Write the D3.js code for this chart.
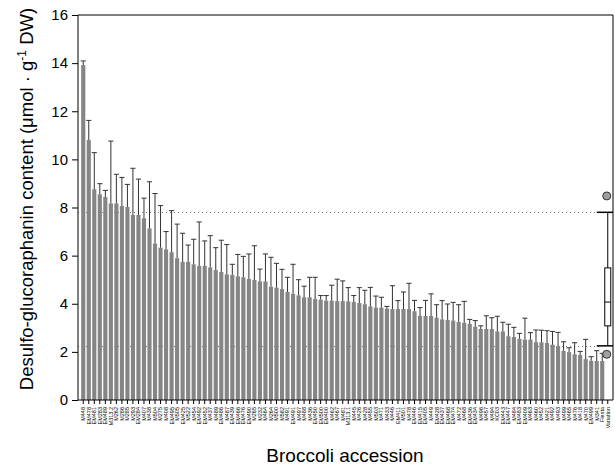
<!DOCTYPE html>
<html>
<head>
<meta charset="utf-8">
<script src="https://cdn.jsdelivr.net/npm/d3@7"></script>
<style>
  body { margin: 0; background: #fff; }
  text { font-family: Arial, "Liberation Sans", sans-serif; }
</style>
</head>
<body>
<div id="chart"></div>
<script>
// accessions, sorted by content
var accessions = ["M448", "EM478", "EM481", "EM283", "EM489", "M313.2", "M262", "M286", "M285", "M293",
  "EM284", "M407", "M438", "M504", "M275", "M408", "EM495", "M505", "EM425", "M522",
  "M454", "EM492", "EM452", "M437", "M489", "EM486", "M487", "EM439", "EM466", "EM476",
  "EM490", "M265", "M232", "M464", "M264", "M500", "M582", "M491", "EM491", "M497",
  "M488", "M436", "EM450", "EM500", "EM400", "M462", "M467", "M481", "M313.1", "M445",
  "M426", "M428", "M455", "M503", "M471", "M433", "M446", "EM411", "M501", "M478",
  "EM446", "EM415", "EM405", "M449", "EM428", "EM437", "EM468", "EM474", "M472", "M468",
  "EM436", "EM434", "M496", "M457", "M494", "KC03", "EM443", "EM447", "M484", "EM483",
  "EM409", "M463", "M460", "M452", "M421", "M492", "M493", "M499", "M465", "M476",
  "M418", "M470", "EM499", "M341", "Fiesta"];

var means = [13.92, 10.80, 8.76, 8.55, 8.44, 8.17, 8.17, 8.06, 8.02, 7.69,
  7.69, 7.55, 7.13, 6.50, 6.33, 6.26, 6.14, 5.89, 5.74, 5.74,
  5.64, 5.57, 5.57, 5.51, 5.40, 5.32, 5.22, 5.20, 5.14, 5.10,
  5.03, 4.99, 4.93, 4.93, 4.71, 4.67, 4.61, 4.49, 4.41, 4.35,
  4.27, 4.27, 4.20, 4.17, 4.13, 4.13, 4.11, 4.11, 4.10, 4.07,
  4.03, 3.98, 3.89, 3.84, 3.84, 3.80, 3.78, 3.78, 3.78, 3.78,
  3.69, 3.50, 3.49, 3.49, 3.42, 3.35, 3.33, 3.30, 3.24, 3.21,
  3.16, 3.05, 2.95, 2.95, 2.95, 2.85, 2.85, 2.65, 2.62, 2.54,
  2.51, 2.51, 2.40, 2.40, 2.37, 2.30, 2.24, 2.04, 1.99, 1.90,
  1.87, 1.70, 1.63, 1.62, 1.62];

var errs = [0.17, 0.82, 1.52, 0.44, 0.27, 2.59, 1.21, 1.19, 0.94, 1.94,
  1.49, 0.84, 1.94, 2.08, 1.75, 0.74, 1.73, 1.42, 1.19, 0.70,
  1.04, 1.83, 1.04, 1.32, 0.93, 1.32, 1.24, 0.44, 0.91, 0.87,
  1.04, 1.42, 0.51, 1.14, 1.22, 1.01, 0.82, 0.61, 1.23, 0.65,
  0.46, 0.83, 0.90, 0.17, 0.21, 0.64, 0.91, 0.84, 0.57, 0.27,
  0.64, 0.58, 0.79, 0.48, 0.43, 0.09, 0.97, 0.35, 0.71, 1.07,
  0.45, 0.34, 0.65, 0.92, 0.54, 0.78, 0.66, 0.76, 0.72, 0.89,
  0.19, 0.25, 0.13, 0.55, 0.47, 0.63, 0.38, 0.50, 0.40, 0.23,
  0.89, 0.29, 0.51, 0.50, 0.51, 0.55, 0.57, 0.38, 0.18, 0.48,
  0.15, 0.82, 0.17, 0.43, 0.32];

// variation box: whisker low, q1, median, q3, whisker high
var boxLabel = "Variation";
var boxStats = [2.25, 3.08, 4.07, 5.49, 7.8];
var boxOutliers = [8.48, 1.9];

var yTicks = [0, 2, 4, 6, 8, 10, 12, 14, 16];

var width = 615, height = 471;
var mLeft = 78, mRight = 613, mTop = 15, mBottom = 400;

var svg = d3.select("#chart").append("svg")
  .attr("width", width)
  .attr("height", height);

var x = d3.scaleBand()
  .domain(accessions.concat([boxLabel]))
  .range([mLeft, mRight])
  .paddingInner(0.25)
  .paddingOuter(0.575);

var y = d3.scaleLinear().domain([0, 16]).range([mBottom, mTop]);

var data = accessions.map(function(d, i) { return {name: d, mean: means[i], err: errs[i]}; });

// reference lines at the whiskers
svg.selectAll(".ref").data([boxStats[0], boxStats[4]])
  .enter().append("line")
  .attr("x1", mLeft).attr("x2", x(boxLabel) + x.bandwidth() / 2 - 8)
  .attr("y1", function(d) { return Math.round(y(d)) + 0.5; })
  .attr("y2", function(d) { return Math.round(y(d)) + 0.5; })
  .style("stroke", "#777")
  .style("stroke-dasharray", "1,3");

// bars
svg.append("g").selectAll("rect").data(data)
  .enter().append("rect")
  .attr("x", function(d) { return x(d.name); })
  .attr("y", function(d) { return y(d.mean); })
  .attr("width", x.bandwidth())
  .attr("height", function(d) { return mBottom - y(d.mean); })
  .style("fill", "#858585");

// error bars (upper only)
var eb = svg.append("g").style("stroke", "#333").style("stroke-width", 1);
eb.selectAll(".ev").data(data)
  .enter().append("line")
  .attr("x1", function(d) { return x(d.name) + x.bandwidth() / 2; })
  .attr("x2", function(d) { return x(d.name) + x.bandwidth() / 2; })
  .attr("y1", function(d) { return y(d.mean); })
  .attr("y2", function(d) { return y(d.mean + d.err); });
eb.selectAll(".ec").data(data)
  .enter().append("line")
  .attr("x1", function(d) { return x(d.name) - 0.5; })
  .attr("x2", function(d) { return x(d.name) + x.bandwidth() + 0.5; })
  .attr("y1", function(d) { return y(d.mean + d.err); })
  .attr("y2", function(d) { return y(d.mean + d.err); });

// box plot of variation
var bx = x(boxLabel) + x.bandwidth() / 2;
var bg = svg.append("g").style("stroke", "#000").style("stroke-width", 1);
bg.append("line")
  .attr("x1", bx).attr("x2", bx)
  .attr("y1", y(boxStats[0])).attr("y2", y(boxStats[4]));
bg.selectAll(".cap").data([boxStats[0], boxStats[4]])
  .enter().append("line")
  .attr("x1", bx - 11).attr("x2", mRight)
  .attr("y1", function(d) { return y(d); })
  .attr("y2", function(d) { return y(d); })
  .style("stroke-width", 1.5);
bg.append("rect")
  .attr("x", bx - 3).attr("width", 6)
  .attr("y", y(boxStats[3]))
  .attr("height", y(boxStats[1]) - y(boxStats[3]))
  .style("fill", "#fff");
bg.append("line")
  .attr("x1", bx - 3).attr("x2", bx + 3)
  .attr("y1", y(boxStats[2])).attr("y2", y(boxStats[2]));
svg.selectAll(".out").data(boxOutliers)
  .enter().append("circle")
  .attr("cx", bx - 1)
  .attr("cy", function(d) { return y(d); })
  .attr("r", 4)
  .style("fill", "#a0a0a0")
  .style("stroke", "#333");

// frame
svg.append("path")
  .attr("d", "M" + mLeft + "," + mTop + "H" + mRight + "V" + mBottom)
  .style("fill", "none").style("stroke", "#000");

// axes
var yAxis = svg.append("g")
  .attr("transform", "translate(" + mLeft + ",0)")
  .call(d3.axisLeft(y).tickValues(yTicks).tickSize(6).tickPadding(4));
yAxis.selectAll("text").style("font-size", "15px").style("fill", "#000");
yAxis.select(".domain").attr("d", "M0," + mTop + "V" + mBottom);

var xAxis = svg.append("g")
  .attr("transform", "translate(0," + mBottom + ")")
  .call(d3.axisBottom(x).tickSize(4).tickPadding(2));
xAxis.select(".domain").attr("d", "M" + mLeft + ",0H" + mRight);
xAxis.selectAll("text")
  .style("font-size", "5.5px")
  .style("fill", "#000")
  .attr("text-anchor", "end")
  .attr("dy", "0.35em")
  .attr("transform", "translate(0,7) rotate(-90)")
  .attr("x", 0).attr("y", 0);

// titles
var yt = svg.append("text")
  .attr("transform", "rotate(-90)")
  .attr("x", -199).attr("y", 33)
  .attr("text-anchor", "middle")
  .style("font-size", "18.5px");
yt.append("tspan").text("Desulfo-glucoraphanin content (\u03bcmol \u00b7 g");
yt.append("tspan").attr("dy", -7).style("font-size", "12px").text("-1");
yt.append("tspan").attr("dy", 7).text(" DW)");

svg.append("text")
  .attr("x", 345).attr("y", 462)
  .attr("text-anchor", "middle")
  .style("font-size", "19px")
  .text("Broccoli accession");
</script>
</body>
</html>
